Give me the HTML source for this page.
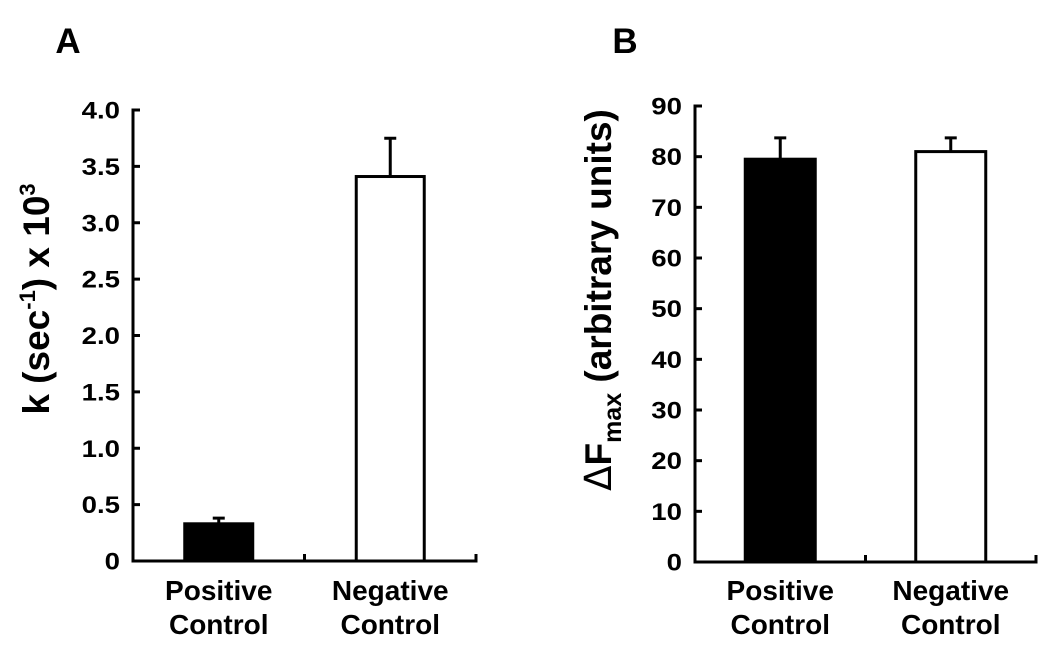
<!DOCTYPE html>
<html><head><meta charset="utf-8"><style>
body{margin:0;background:#fff;}
svg{display:block;font-family:"Liberation Sans",Arial,sans-serif;font-weight:bold;}
</style></head><body>
<svg id="s" width="1050" height="655" viewBox="0 0 1050 655">
<text x="68" y="53" font-size="35" text-anchor="middle">A</text>
<text x="625" y="53" font-size="35" text-anchor="middle">B</text>
<text transform="translate(49,299) rotate(-90)" font-size="37" text-anchor="middle">k (sec<tspan font-size="22" dy="-14">-1</tspan><tspan dy="14">) x 10</tspan><tspan font-size="22" dy="-14">3</tspan></text>
<text transform="translate(611,300) rotate(-90)" font-size="37" text-anchor="middle"><tspan font-family="DejaVu Sans" font-weight="normal">Δ</tspan>F<tspan font-size="25" dy="10">max</tspan><tspan dy="-10"> (arbitrary units)</tspan></text>
<g id="ga"></g><g id="gb"></g>
</svg>
<script>
const categories=["Positive|Control","Negative|Control"];
const valuesA=[0.33,3.41];
const errorsA=[0.05,0.34];
const ticksA=["0","0.5","1.0","1.5","2.0","2.5","3.0","3.5","4.0"];
const valuesB=[79.5,81];
const errorsB=[4.2,2.7];
const ticksB=["0","10","20","30","40","50","60","70","80","90"];
const NS="http://www.w3.org/2000/svg";
function mk(g,t,a){const e=document.createElementNS(NS,t);for(const k in a)e.setAttribute(k,a[k]);g.appendChild(e);return e;}
function panel(gid,cfg){
  const g=document.getElementById(gid);
  const y=v=>cfg.y0-(v/cfg.max)*(cfg.y0-cfg.y1);
  const ax=mk(g,'path',{d:`M${cfg.x0+7} ${cfg.y1}H${cfg.x0}V${cfg.y0}H${cfg.x2}v-7M${(cfg.x0+cfg.x2)/2} ${cfg.y0}v-7`,fill:'none',stroke:'#000','stroke-width':3});
  
  
  cfg.ticks.forEach(t=>{const v=parseFloat(t);const yy=y(v);
    const l=mk(g,'line',{x1:cfg.x0,x2:cfg.x0+7,y1:yy,y2:yy,stroke:'#000','stroke-width':3});
    
    
    const tx=mk(g,'text',{transform:`translate(${cfg.x0-13},${yy+8.5}) scale(1.15,1)`,'font-size':24,'text-anchor':'end'});tx.textContent=t;
    
    });
  const slot=(cfg.x2-cfg.x0)/2;
  cfg.vals.forEach((v,i)=>{const cx=cfg.x0+slot*(i+0.5);const bw=cfg.bw;
    const r=mk(g,'rect',{x:cx-bw/2,y:y(v),width:bw,height:cfg.y0-y(v),fill:i==0?'#000':'#fff',stroke:'#000','stroke-width':3});
    
    
    const e=mk(g,'path',{d:`M${cx} ${y(v)}V${y(v+cfg.err[i])}M${cx-6} ${y(v+cfg.err[i])}h12`,stroke:'#000','stroke-width':3,fill:'none'});
    
    
    const parts=categories[i].split('|');
    parts.forEach((p,j)=>{const t=mk(g,'text',{x:cx,y:600+j*34,'font-size':28,'text-anchor':'middle'});t.textContent=p;
      
      });
  });
}
panel('ga',{x0:133,x2:476,y0:561,y1:110,max:4,ticks:ticksA,vals:valuesA,err:errorsA,bw:68});
panel('gb',{x0:695,x2:1036,y0:562,y1:106,max:90,ticks:ticksB,vals:valuesB,err:errorsB,bw:70});
</script>
</body></html>
